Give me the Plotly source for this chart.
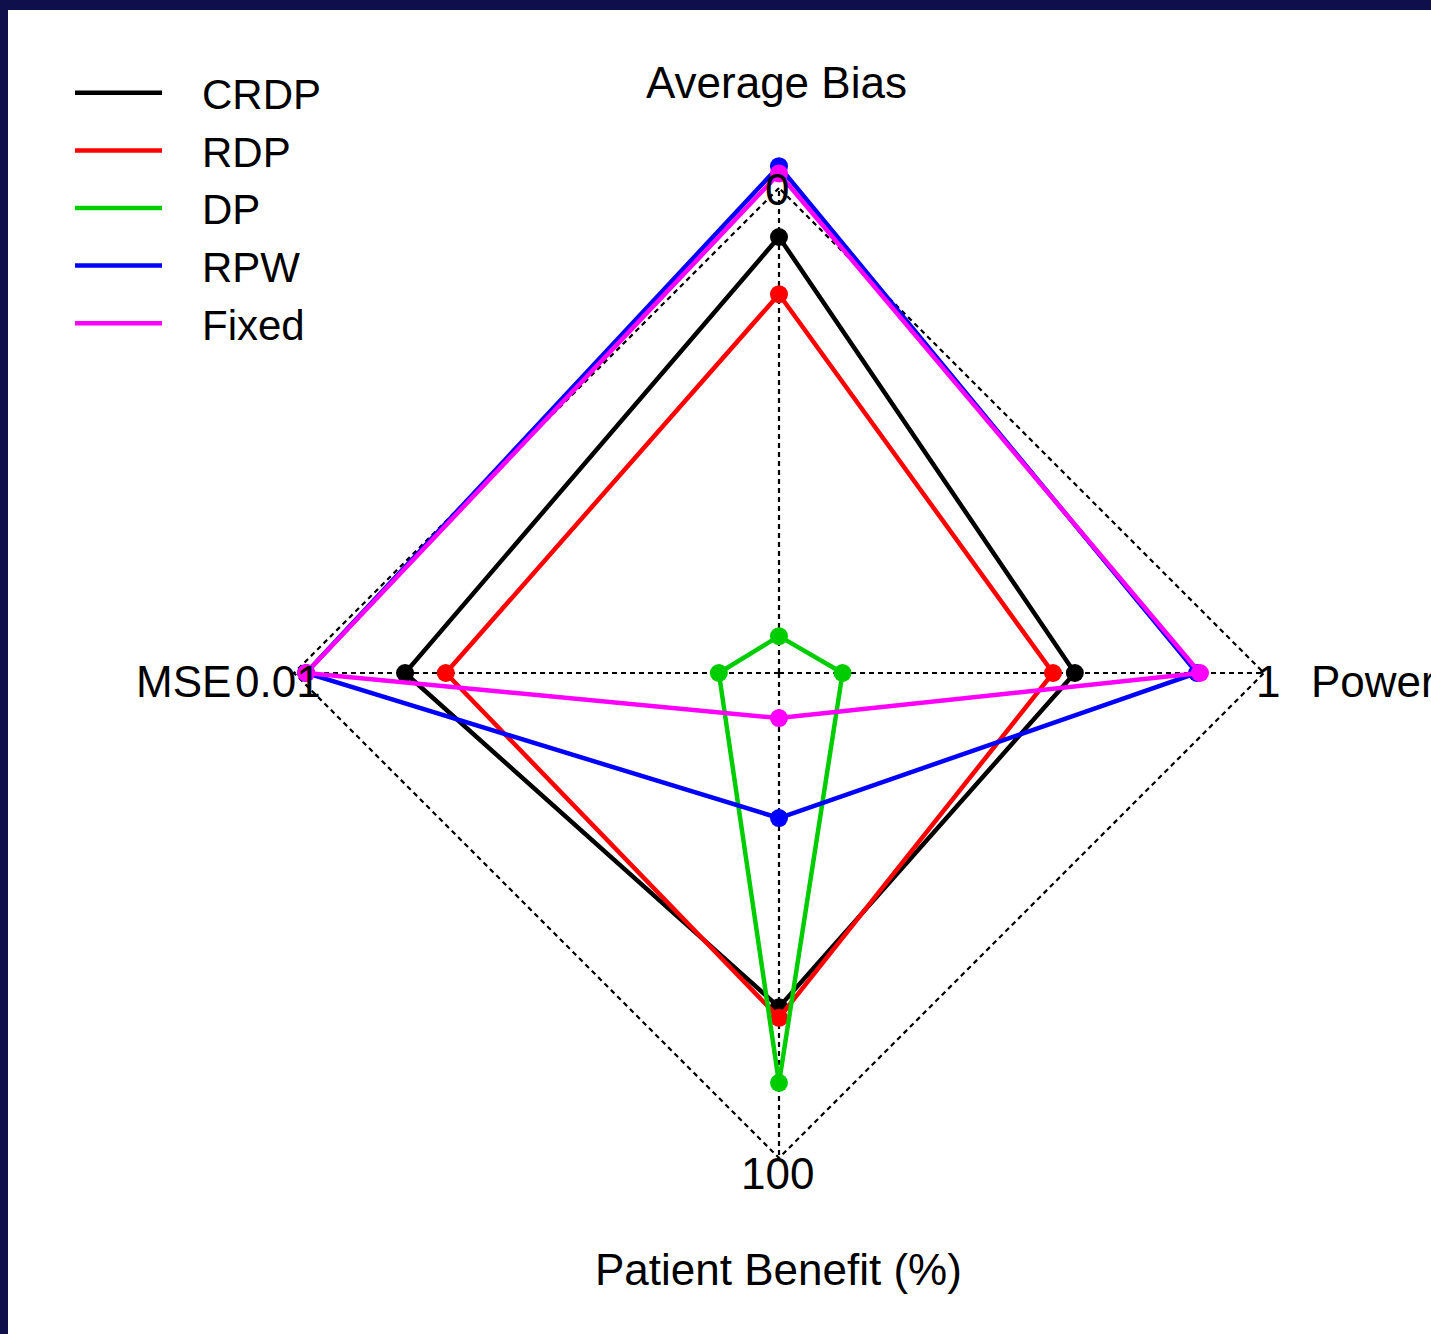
import plotly.graph_objects as go

# ---------------- data ----------------
categories = ["Average Bias", "MSE", "Patient Benefit (%)", "Power"]
axis_max_labels = ["0", "0.01", "100", "1"]

series_names = ["CRDP", "RDP", "DP", "RPW", "Fixed"]
crdp = [0.899, 0.771, 0.689, 0.610]
rdp = [0.781, 0.687, 0.711, 0.565]
dp = [0.076, 0.124, 0.845, 0.131]
rpw = [1.045, 0.975, 0.299, 0.862]
fixed = [1.030, 0.975, 0.093, 0.868]
series_values = [crdp, rdp, dp, rpw, fixed]
series_colors = ["#000000", "#FF0000", "#00CD00", "#0000FF", "#FF00FF"]

# ---------------- layout constants ----------------
W, H = 1431, 1334
CX, CY = 779, 673          # centre of the radar in px
RPX = 485                  # px for r = 1
RMAX = 1.1
FONT = "Liberation Sans, Arial, sans-serif"
FS = 44
GRID = dict(color="black", width=2.2, dash="5px,4px")

def px(x, y):
    return x / W, 1 - y / H

fig = go.Figure()

# outer frame (scale maximum) and spokes
closed_theta = categories + [categories[0]]
fig.add_trace(go.Scatterpolar(
    r=[1] * (len(categories) + 1), theta=closed_theta, mode="lines",
    line=GRID, showlegend=False, hoverinfo="skip"))
spoke_r, spoke_t = [], []
for c in categories:
    spoke_r += [0, 1, None]
    spoke_t += [c, c, None]
fig.add_trace(go.Scatterpolar(
    r=spoke_r, theta=spoke_t, mode="lines", connectgaps=False,
    line=GRID, showlegend=False, hoverinfo="skip"))

NBSP = "\u00a0" * 3
for name, vals, col in zip(series_names, series_values, series_colors):
    fig.add_trace(go.Scatterpolar(
        r=vals + [vals[0]], theta=closed_theta, name=NBSP + name,
        legendgroup=name, mode="lines",
        line=dict(color=col, width=4.5), cliponaxis=False))
    fig.add_trace(go.Scatterpolar(
        r=vals, theta=categories, name=name, legendgroup=name,
        mode="markers", showlegend=False,
        marker=dict(color=col, size=18), cliponaxis=False))

half = RPX * RMAX
dx0, dy0 = px(CX - half, CY + half)
dx1, dy1 = px(CX + half, CY - half)

annotations = []
def ann(text, x, y, xanchor="center"):
    ax, ay = px(x, y)
    annotations.append(dict(text=text, x=ax, y=ay, xref="paper", yref="paper",
                            xanchor=xanchor, yanchor="middle", showarrow=False,
                            font=dict(family=FONT, size=FS, color="black")))

ann(categories[0], 776, 83)
ann(categories[1], 183, 681)
ann(categories[2], 778, 1269)
ann(categories[3], 1309, 681, "left")
ann(axis_max_labels[0], 777, 189)
ann(axis_max_labels[1], 278, 681)
ann(axis_max_labels[2], 777, 1173)
ann(axis_max_labels[3], 1268, 681)

fig.update_layout(
    width=W, height=H,
    margin=dict(l=0, r=0, t=0, b=0),
    paper_bgcolor="white",
    font=dict(family=FONT, size=FS, color="black"),
    polar=dict(
        domain=dict(x=[dx0, dx1], y=[dy0, dy1]),
        bgcolor="white",
        gridshape="linear",
        radialaxis=dict(visible=False, range=[0, RMAX]),
        angularaxis=dict(direction="counterclockwise", rotation=90,
                         showgrid=False, showline=False,
                         showticklabels=False, ticks=""),
    ),
    legend=dict(x=px(70, 0)[0], y=px(0, 59)[1], xanchor="left", yanchor="top",
                bgcolor="rgba(0,0,0,0)", itemwidth=87,
                font=dict(family=FONT, size=42, color="black"),
                tracegroupgap=0),
    annotations=annotations,
    shapes=[
        dict(type="rect", xref="paper", yref="paper", x0=0, x1=1,
             y0=1 - 10 / H, y1=1, fillcolor="#0f0f4b", line_width=0),
        dict(type="rect", xref="paper", yref="paper", x0=0, x1=8 / W,
             y0=0, y1=1, fillcolor="#0f0f4b", line_width=0),
    ],
)

fig.write_html("out.html", config={"displayModeBar": False},
               post_script="document.body.style.margin='0px';document.body.style.overflow='hidden';")
